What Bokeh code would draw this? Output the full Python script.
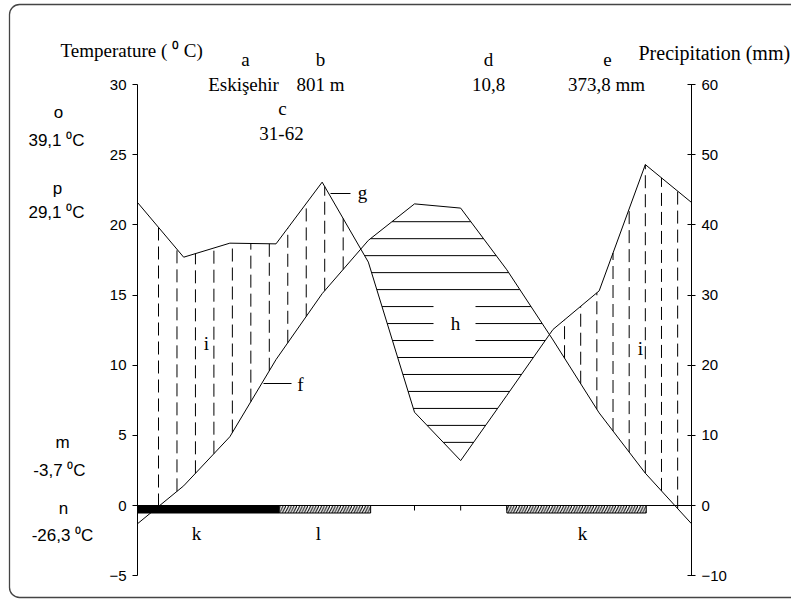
import numpy as np
from bokeh.plotting import figure
from bokeh.models import Range1d, LinearAxis, FixedTicker, Label, BoxAnnotation
from bokeh.embed import file_html
from bokeh.resources import INLINE

# ---------------- data ----------------
months = ["Jan", "Feb", "Mar", "Apr", "May", "Jun", "Jul", "Aug", "Sep", "Oct", "Nov", "Dec", "Jan"]
month_pos = list(range(13))
temperature = [-1.3, 1.4, 4.9, 10.4, 15.1, 18.9, 21.5, 21.2, 16.8, 11.8, 6.6, 2.3, -1.3]
precipitation = [43.2, 35.4, 37.4, 37.3, 46.1, 34.7, 13.3, 6.4, 15.7, 25.1, 30.6, 48.6, 43.2]
temp_ticks = [-5, 0, 5, 10, 15, 20, 25, 30]
prec_ticks = [-10, 0, 10, 20, 30, 40, 50, 60]
frost_start = [0.0]
frost_end = [3.07]
late_frost_start = [3.07, 8.0]
late_frost_end = [5.05, 11.02]

# ---------------- geometry helpers (page px -> data) ----------------
W, H = 791, 601
X0_PX, X12_PX = 137.0, 691.0
PX_PER_M = (X12_PX - X0_PX) / 12.0
Y0_PX = 505.0
PX_PER_C = 491.0 / 35.0
def X(px):
    return (px - X0_PX) / PX_PER_M
def Y(py):
    return (Y0_PX - py) / PX_PER_C

p = figure(width=W, height=H, output_backend="svg", toolbar_location=None,
           x_range=Range1d(X(0), X(W)), y_range=Range1d(Y(H), Y(0)),
           x_axis_location=None, y_axis_location=None,
           min_border_left=0, min_border_right=0, min_border_top=0, min_border_bottom=0)
p.grid.visible = False
p.outline_line_color = None
p.background_fill_color = "white"
p.border_fill_color = "white"

p.extra_y_ranges = {"prec": Range1d(2 * Y(H), 2 * Y(0))}

axis_kw = dict(axis_line_color="black", major_tick_line_color="black",
               minor_tick_line_color=None, major_label_text_font="Liberation Sans",
               major_label_text_font_size="15px", major_label_text_color="black")
yl = LinearAxis(bounds=(temp_ticks[0], temp_ticks[-1]), ticker=FixedTicker(ticks=temp_ticks),
                fixed_location=month_pos[0],
                major_tick_out=5, major_tick_in=0, major_label_standoff=6, **axis_kw)
p.add_layout(yl, "left")
yr = LinearAxis(y_range_name="prec", bounds=(prec_ticks[0], prec_ticks[-1]),
                ticker=FixedTicker(ticks=prec_ticks), fixed_location=month_pos[-1],
                major_tick_out=4, major_tick_in=4, major_label_standoff=6, **axis_kw)
p.add_layout(yr, "right")

# outer rounded frame
p.add_layout(BoxAnnotation(left=X(9), right=X(W + 30), top=Y(4), bottom=Y(597),
                           fill_color=None, fill_alpha=0, line_color="#444444",
                           line_alpha=1.0, line_width=1.3, border_radius=10))

# ---------------- hatching ----------------
xf = np.linspace(0, 12, 4801)
Tf = np.interp(xf, month_pos, temperature)
Pf = np.interp(xf, month_pos, precipitation) / 2.0

# vertical dashed lines in humid periods
vx = np.concatenate([np.arange(0.455, 4.95, 0.4), np.arange(9.25, 11.9, 0.35)])
Tv = np.interp(vx, month_pos, temperature)
Pv = np.interp(vx, month_pos, precipitation) / 2.0
keep = Pv > Tv
p.segment(x0=vx[keep], y0=Tv[keep], x1=vx[keep], y1=Pv[keep],
          line_color="black", line_width=1, line_dash="13 6")

# horizontal lines in arid period
h_x, h_y = X(455), Y(322)
levels = 4.5 + 1.21 * np.arange(14)
hx0, hx1, hy = [], [], []
for lev in levels:
    mask = (Pf < lev) & (Tf > lev)
    idx = np.where(mask)[0]
    if len(idx) == 0:
        continue
    splits = np.where(np.diff(idx) > 1)[0]
    starts = np.concatenate([[idx[0]], idx[splits + 1]])
    ends = np.concatenate([idx[splits], [idx[-1]]])
    for s, e in zip(starts, ends):
        a, b = xf[s], xf[e]
        if abs(lev - h_y) < 1.5:
            ga, gb = X(433), X(475)
            if a < ga:
                hx0.append(a); hx1.append(min(b, ga)); hy.append(lev)
            if b > gb:
                hx0.append(max(a, gb)); hx1.append(b); hy.append(lev)
        else:
            hx0.append(a); hx1.append(b); hy.append(lev)
p.segment(x0=hx0, y0=hy, x1=hx1, y1=hy, line_color="black", line_width=1)

# ---------------- curves ----------------
p.line(month_pos, temperature, line_color="black", line_width=1)
p.line(month_pos, precipitation, y_range_name="prec", line_color="black", line_width=1)

# ---------------- x axis at 0 with month ticks ----------------
tick_len = 5 / PX_PER_C
p.segment(x0=month_pos[1:-1], y0=[0] * 11, x1=month_pos[1:-1], y1=[-tick_len] * 11,
          line_color="black", line_width=1)
bar_h = 7.5 / PX_PER_C
p.quad(left=frost_start, right=frost_end, top=[0] * len(frost_start),
       bottom=[-bar_h] * len(frost_start), fill_color="black", line_color="black")
p.quad(left=late_frost_start, right=late_frost_end, top=[0] * len(late_frost_start),
       bottom=[-bar_h] * len(late_frost_start), fill_color="white", line_color="black",
       hatch_pattern="/", hatch_color="black", hatch_scale=5.5, hatch_weight=1.1)
p.line([month_pos[0], month_pos[-1]], [0, 0], line_color="black", line_width=1)

# leader lines for g and f
p.segment(x0=[X(330), X(263)], y0=[Y(193), Y(383)], x1=[X(350), X(291)], y1=[Y(193), Y(383)],
          line_color="black", line_width=1)

# ---------------- labels ----------------
SERIF = "Liberation Serif"
SANS = "Liberation Sans"
LIFT = 5
def lab(text, px, py, font, size, align="center"):
    p.add_layout(Label(x=X(px), y=Y(py - LIFT), text=text, text_font=font, text_font_size=size,
                       text_align=align, text_baseline="alphabetic", text_color="black"))

serif_labels = [
    ("Temperature ( \u2070 C)", 60, 55, "left"),
    ("a", 245, 64, "center"), ("b", 320, 64, "center"),
    ("Eski\u015fehir", 243, 89, "center"), ("801 m", 320, 89, "center"),
    ("c", 282, 113, "center"), ("31-62", 281, 138, "center"),
    ("d", 488, 64, "center"), ("10,8", 488, 89, "center"),
    ("e", 607, 64, "center"), ("373,8 mm", 606, 89, "center"),
    ("g", 362, 197, "center"), ("f", 300, 389, "center"), ("h", 455, 328, "center"),
    ("i", 206, 348, "center"), ("i", 640, 353, "center"),
    ("k", 196, 538, "center"), ("l", 318, 538, "center"), ("k", 582, 538, "center"),
]
for t, px, py, al in serif_labels:
    lab(t, px, py, SERIF, "19px", al)
lab("Precipitation (mm)", 638, 57, SERIF, "20px", "left")

sans_labels = [
    ("o", 58, 117), ("39,1 \u2070C", 56, 145),
    ("p", 57, 193), ("29,1 \u2070C", 56, 217),
    ("m", 62, 447), ("-3,7 \u2070C", 59, 475),
    ("n", 63, 513), ("-26,3 \u2070C", 62, 540),
]
for t, px, py in sans_labels:
    lab(t, px, py, SANS, "17px", "center")

open("out.html", "w").write(file_html(p, INLINE))
